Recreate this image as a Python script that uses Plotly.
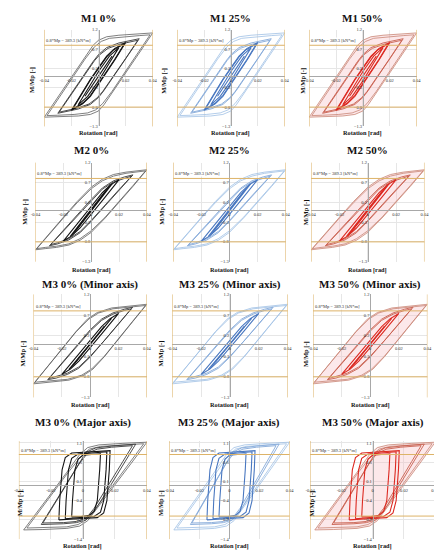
import plotly.graph_objects as go

# ---------------- data ----------------
PANEL_TITLES = [
    "M1 0%", "M1 25%", "M1 50%",
    "M2 0%", "M2 25%", "M2 50%",
    "M3 0% (Minor axis)", "M3 25% (Minor axis)", "M3 50% (Minor axis)",
    "M3 0% (Major axis)", "M3 25% (Major axis)", "M3 50% (Major axis)",
]
X_TITLE = "Rotation [rad]"
Y_TITLE = "M/Mp [-]"
LIMIT_TEXT = "0.8*Mp = 389.3 [kN*m]"
LIMIT_ROT = 0.04
LIMIT_MOM = 0.8

ROT_RANGE = [-0.04, 0.04]
ROT_TICKS = [-0.04, -0.02, 0, 0.02, 0.04]
ROT_TICK_TEXT = ["-0.04", "-0.02", "0", "0.02", "0.04"]
MOM_RANGE_A = [-1.3, 1.2]
MOM_TICKS_A = [-1.3, -0.8, -0.3, 0.2, 0.7, 1.2]
MOM_RANGE_B = [-1.4, 1.15]
MOM_TICKS_B = [-1.4, -0.9, -0.4, 0.1, 0.6, 1.1]

# M1 loops (cycle amplitude, rotation, moment)
M1_AMP = [0.04, 0.04, 0.03, 0.03, 0.02, 0.02, 0.015, 0.01]
M1_ROT = [
    [-0.040, -0.030, -0.020, -0.010, -0.004, 0.000, 0.006, 0.015, 0.030, 0.040,
     0.030, 0.020, 0.010, 0.004, 0.000, -0.006, -0.015, -0.030, -0.040],
    [-0.038, -0.030, -0.020, -0.010, -0.003, 0.002, 0.008, 0.018, 0.030, 0.038,
     0.030, 0.020, 0.010, 0.003, -0.002, -0.008, -0.018, -0.030, -0.038],
    [-0.030, -0.020, -0.010, -0.004, 0.000, 0.006, 0.015, 0.025, 0.030,
     0.020, 0.010, 0.004, 0.000, -0.006, -0.015, -0.025, -0.030],
    [-0.029, -0.020, -0.010, -0.003, 0.001, 0.007, 0.016, 0.025, 0.029,
     0.020, 0.010, 0.003, -0.001, -0.007, -0.016, -0.025, -0.029],
    [-0.020, -0.012, -0.006, 0.000, 0.006, 0.012, 0.017, 0.020,
     0.012, 0.006, 0.000, -0.006, -0.012, -0.017, -0.020],
    [-0.019, -0.012, -0.006, 0.000, 0.006, 0.011, 0.016, 0.019,
     0.012, 0.006, 0.000, -0.006, -0.011, -0.016, -0.019],
    [-0.015, -0.008, 0.000, 0.008, 0.013, 0.015, 0.008, 0.000, -0.008, -0.013, -0.015],
    [-0.010, 0.010],
]
M1_MOM = [
    [-1.06, -0.54, -0.02, 0.50, 0.80, 0.93, 1.02, 1.06, 1.10, 1.12,
     0.60, 0.08, -0.44, -0.74, -0.90, -0.99, -1.03, -1.05, -1.06],
    [-1.02, -0.60, -0.08, 0.44, 0.76, 0.90, 0.98, 1.02, 1.05, 1.07,
     0.65, 0.13, -0.39, -0.71, -0.87, -0.95, -0.99, -1.01, -1.02],
    [-0.96, -0.44, 0.08, 0.38, 0.56, 0.74, 0.86, 0.94, 0.97,
     0.45, -0.07, -0.37, -0.55, -0.73, -0.85, -0.93, -0.96],
    [-0.93, -0.46, 0.06, 0.40, 0.56, 0.72, 0.83, 0.90, 0.93,
     0.46, -0.06, -0.40, -0.56, -0.72, -0.83, -0.90, -0.93],
    [-0.88, -0.42, -0.08, 0.22, 0.52, 0.72, 0.82, 0.87,
     0.42, 0.10, -0.22, -0.52, -0.72, -0.82, -0.88],
    [-0.85, -0.44, -0.10, 0.20, 0.50, 0.68, 0.78, 0.84,
     0.44, 0.12, -0.20, -0.50, -0.68, -0.78, -0.85],
    [-0.74, -0.34, 0.12, 0.52, 0.69, 0.74, 0.34, -0.12, -0.52, -0.69, -0.74],
    [-0.52, 0.52],
]

# M2 loops
M2_AMP = [0.04, 0.04, 0.03, 0.03, 0.02, 0.015, 0.01]
M2_ROT = [
    [-0.040, -0.030, -0.020, -0.010, 0.000, 0.008, 0.016, 0.025, 0.033, 0.040,
     0.030, 0.020, 0.010, 0.000, -0.008, -0.016, -0.025, -0.033, -0.040],
    [-0.039, -0.030, -0.020, -0.010, 0.000, 0.008, 0.016, 0.025, 0.033, 0.039,
     0.030, 0.020, 0.010, 0.000, -0.008, -0.016, -0.025, -0.033, -0.039],
    [-0.030, -0.020, -0.010, 0.000, 0.008, 0.016, 0.024, 0.030,
     0.020, 0.010, 0.000, -0.008, -0.016, -0.024, -0.030],
    [-0.029, -0.020, -0.010, 0.000, 0.008, 0.016, 0.024, 0.029,
     0.020, 0.010, 0.000, -0.008, -0.016, -0.024, -0.029],
    [-0.020, -0.010, 0.000, 0.008, 0.014, 0.020, 0.010, 0.000, -0.008, -0.014, -0.020],
    [-0.015, -0.005, 0.005, 0.011, 0.015, 0.005, -0.005, -0.011, -0.015],
    [-0.010, 0.010],
]
M2_MOM = [
    [-1.00, -0.58, -0.18, 0.22, 0.58, 0.78, 0.90, 0.96, 0.99, 1.02,
     0.60, 0.20, -0.20, -0.56, -0.76, -0.88, -0.94, -0.97, -1.00],
    [-0.97, -0.60, -0.20, 0.19, 0.54, 0.74, 0.86, 0.93, 0.96, 0.99,
     0.62, 0.22, -0.18, -0.52, -0.72, -0.85, -0.91, -0.94, -0.97],
    [-0.90, -0.52, -0.12, 0.27, 0.56, 0.74, 0.84, 0.89,
     0.51, 0.11, -0.28, -0.57, -0.75, -0.85, -0.90],
    [-0.87, -0.53, -0.13, 0.25, 0.53, 0.71, 0.81, 0.86,
     0.52, 0.12, -0.26, -0.54, -0.72, -0.82, -0.87],
    [-0.78, -0.34, 0.10, 0.44, 0.64, 0.77, 0.33, -0.11, -0.45, -0.65, -0.78],
    [-0.66, -0.20, 0.26, 0.52, 0.66, 0.20, -0.26, -0.52, -0.66],
    [-0.46, 0.46],
]

# M3 minor-axis loops
M3N_AMP = [0.04, 0.04, 0.03, 0.03, 0.02, 0.015, 0.01]
M3N_ROT = [
    [-0.040, -0.030, -0.020, -0.010, -0.002, 0.005, 0.015, 0.030, 0.040,
     0.030, 0.020, 0.010, 0.002, -0.005, -0.015, -0.030, -0.040],
    [-0.039, -0.030, -0.020, -0.010, -0.001, 0.006, 0.016, 0.030, 0.039,
     0.030, 0.020, 0.010, 0.001, -0.006, -0.016, -0.030, -0.039],
    [-0.030, -0.020, -0.010, 0.000, 0.008, 0.016, 0.024, 0.030,
     0.020, 0.010, 0.000, -0.008, -0.016, -0.024, -0.030],
    [-0.029, -0.020, -0.010, 0.000, 0.008, 0.016, 0.024, 0.029,
     0.020, 0.010, 0.000, -0.008, -0.016, -0.024, -0.029],
    [-0.020, -0.010, 0.000, 0.008, 0.014, 0.020, 0.010, 0.000, -0.008, -0.014, -0.020],
    [-0.015, -0.005, 0.005, 0.011, 0.015, 0.005, -0.005, -0.011, -0.015],
    [-0.010, 0.010],
]
M3N_MOM = [
    [-0.97, -0.55, -0.12, 0.30, 0.60, 0.76, 0.87, 0.93, 0.96,
     0.54, 0.11, -0.31, -0.61, -0.77, -0.88, -0.94, -0.97],
    [-0.93, -0.56, -0.13, 0.29, 0.60, 0.75, 0.85, 0.90, 0.93,
     0.55, 0.12, -0.30, -0.61, -0.76, -0.86, -0.91, -0.93],
    [-0.87, -0.46, -0.05, 0.34, 0.60, 0.75, 0.84, 0.89,
     0.48, 0.07, -0.32, -0.59, -0.74, -0.83, -0.87],
    [-0.84, -0.48, -0.07, 0.31, 0.57, 0.72, 0.81, 0.85,
     0.49, 0.08, -0.30, -0.56, -0.71, -0.80, -0.84],
    [-0.74, -0.32, 0.10, 0.42, 0.61, 0.74, 0.32, -0.10, -0.42, -0.61, -0.74],
    [-0.62, -0.20, 0.22, 0.48, 0.62, 0.20, -0.22, -0.48, -0.62],
    [-0.43, 0.43],
]

# M3 major-axis loops
M3J_AMP = [0.04, 0.04, 0.03, 0.03, 0.02, 0.015, 0.01]
M3J_ROT = [
    [-0.037, -0.030, -0.020, -0.010, -0.002, 0.003, 0.010, 0.025, 0.040,
     0.030, 0.020, 0.010, 0.003, -0.002, -0.010, -0.025, -0.037],
    [-0.035, -0.030, -0.020, -0.010, -0.001, 0.004, 0.011, 0.025, 0.038,
     0.030, 0.020, 0.010, 0.002, -0.003, -0.010, -0.024, -0.035],
    [-0.026, -0.020, -0.010, -0.002, 0.002, 0.008, 0.018, 0.033,
     0.025, 0.015, 0.007, 0.002, -0.004, -0.012, -0.026],
    [-0.025, -0.020, -0.010, -0.002, 0.003, 0.009, 0.018, 0.031,
     0.025, 0.015, 0.007, 0.002, -0.004, -0.012, -0.025],
    [-0.015, -0.0145, -0.013, -0.011, -0.007, 0.005, 0.014, 0.017,
     0.0165, 0.015, 0.013, 0.009, -0.003, -0.012, -0.015],
    [-0.011, -0.0105, -0.009, -0.007, -0.003, 0.006, 0.013, 0.015,
     0.0145, 0.013, 0.011, 0.007, -0.002, -0.009, -0.011],
    [-0.007, -0.0065, -0.005, -0.003, 0.000, 0.006, 0.010, 0.011,
     0.0105, 0.009, 0.007, 0.004, -0.001, -0.005, -0.007],
]
M3J_MOM = [
    [-1.16, -0.78, -0.22, 0.34, 0.80, 0.98, 1.05, 1.09, 1.12,
     0.56, 0.00, -0.56, -0.92, -1.06, -1.12, -1.15, -1.16],
    [-1.11, -0.83, -0.27, 0.29, 0.76, 0.94, 1.01, 1.05, 1.08,
     0.63, 0.07, -0.49, -0.90, -1.02, -1.08, -1.10, -1.11],
    [-1.02, -0.62, 0.06, 0.60, 0.86, 0.97, 1.02, 1.07,
     0.52, -0.16, -0.68, -0.90, -0.97, -1.00, -1.02],
    [-0.98, -0.64, 0.04, 0.58, 0.84, 0.94, 0.99, 1.03,
     0.62, -0.06, -0.60, -0.86, -0.94, -0.97, -0.98],
    [-0.90, -0.40, 0.40, 0.72, 0.84, 0.87, 0.89, 0.90,
     0.40, -0.40, -0.72, -0.84, -0.87, -0.89, -0.90],
    [-0.87, -0.40, 0.40, 0.70, 0.81, 0.84, 0.86, 0.87,
     0.40, -0.40, -0.70, -0.81, -0.84, -0.86, -0.87],
    [-0.82, -0.40, 0.40, 0.68, 0.78, 0.81, 0.82, 0.82,
     0.40, -0.40, -0.68, -0.78, -0.81, -0.82, -0.82],
]

ROW_DATA = [
    (M1_AMP, M1_ROT, M1_MOM),
    (M2_AMP, M2_ROT, M2_MOM),
    (M3N_AMP, M3N_ROT, M3N_MOM),
    (M3J_AMP, M3J_ROT, M3J_MOM),
]

# ---------------- layout / styles ----------------
W, H = 442, 550
FONT = "Liberation Serif, Times New Roman, serif"
# pixel boxes of each panel's plot area
COL_X = [[(32, 143), (168, 278), (303, 413)],
         [(23, 137), (164, 279), (305, 421)],
         [(21, 137), (163, 281), (307, 424)],
         [(6, 137), (160, 283), (304, 432)]]
ROW_Y = [(20, 117.5), (154, 254), (287, 391), (435, 534)]
TITLE_Y = [8, 141, 277, 416]
XT_Y = [124, 262, 399, 540.5]
YT_X = [[20, 155, 297], [12, 153, 300], [10, 151, 300], [8, 152, 306]]
YT_Y = [71, 204, 347, 498]

COL_STYLE = [
    {"outer": ("#606060", 0.8), "mid": ("#3a3a3a", 0.9), "inner": ("#151515", 1.1)},
    {"outer": ("#9fc0e4", 0.8), "mid": ("#84a9d9", 0.9), "inner": ("#4a78c0", 1.1)},
    {"outer": ("#c98676", 0.8), "mid": ("#c8604f", 0.9), "inner": ("#dc2a22", 1.1)},
]
FILL_COL3 = "rgba(247,185,190,0.32)"
ORANGE = "#ddb368"

fig = go.Figure()
annotations = []
shapes = []
layout = {}

for r in range(4):
    amps, rots, moms = ROW_DATA[r]
    yr = MOM_RANGE_B if r == 3 else MOM_RANGE_A
    yt = MOM_TICKS_B if r == 3 else MOM_TICKS_A
    y_top, y_bot = ROW_Y[r]
    yd = [1 - y_bot / H, 1 - y_top / H]
    for c in range(3):
        k = r * 3 + c
        sfx = "" if k == 0 else str(k + 1)
        xa, ya = "x" + sfx, "y" + sfx
        x0, x1 = COL_X[r][c]
        xd = [x0 / W, x1 / W]
        ypos = yd[0] + (0 - yr[0]) / (yr[1] - yr[0]) * (yd[1] - yd[0])
        xpos = (xd[0] + xd[1]) / 2
        layout["xaxis" + sfx] = dict(
            domain=xd, range=ROT_RANGE, anchor="free", position=ypos,
            tickvals=ROT_TICKS, ticktext=ROT_TICK_TEXT, ticks="",
            tickfont=dict(family=FONT, size=4.5, color="#333"),
            showgrid=True, gridcolor="#e6e6e6", gridwidth=0.6,
            showline=True, linecolor="#a8a8a8", linewidth=0.8,
            zeroline=False, fixedrange=True,
        )
        layout["yaxis" + sfx] = dict(
            domain=yd, range=yr, anchor="free", position=xpos,
            tickvals=yt, ticks="",
            tickfont=dict(family=FONT, size=4.5, color="#333"),
            showgrid=True, gridcolor="#e6e6e6", gridwidth=0.6,
            showline=True, linecolor="#a8a8a8", linewidth=0.8,
            zeroline=False, fixedrange=True,
        )
        st = COL_STYLE[c]
        if c == 2:
            fig.add_trace(go.Scatter(
                x=rots[0], y=moms[0], xaxis=xa, yaxis=ya, mode="lines",
                fill="toself", fillcolor=FILL_COL3, line=dict(width=0),
                hoverinfo="skip"))
        for amp, xs, ys in zip(amps, rots, moms):
            key = "outer" if amp >= 0.04 else ("mid" if amp >= 0.03 else "inner")
            col, wd = st[key]
            fig.add_trace(go.Scatter(
                x=xs, y=ys, xaxis=xa, yaxis=ya, mode="lines",
                line=dict(color=col, width=wd), hoverinfo="skip"))
        # limit lines
        for v in (-LIMIT_ROT, LIMIT_ROT):
            shapes.append(dict(type="line", xref=xa, yref=ya + " domain",
                               x0=v, x1=v, y0=0, y1=1,
                               line=dict(color=ORANGE, width=1)))
        for v in (-LIMIT_MOM, LIMIT_MOM):
            shapes.append(dict(type="line", xref=xa + " domain", yref=ya,
                               x0=0, x1=1, y0=v, y1=v,
                               line=dict(color=ORANGE, width=1)))
        annotations.append(dict(
            xref=xa, yref=ya, x=ROT_RANGE[0], y=LIMIT_MOM, xanchor="left",
            yanchor="bottom", text=LIMIT_TEXT, showarrow=False,
            bgcolor="white", borderpad=0, xshift=1, yshift=1,
            font=dict(family=FONT, size=4.5, color="#333")))
        # titles
        annotations.append(dict(
            xref="paper", yref="paper", x=xpos, y=1 - TITLE_Y[r] / H,
            xanchor="center", yanchor="middle", showarrow=False,
            text="<b>" + PANEL_TITLES[k] + "</b>",
            font=dict(family=FONT, size=11, color="#111")))
        annotations.append(dict(
            xref="paper", yref="paper", x=xpos, y=1 - XT_Y[r] / H,
            xanchor="center", yanchor="middle", showarrow=False,
            text="<b>" + X_TITLE + "</b>",
            font=dict(family=FONT, size=6.3, color="#111")))
        annotations.append(dict(
            xref="paper", yref="paper", x=YT_X[r][c] / W, y=1 - YT_Y[r] / H,
            xanchor="center", yanchor="middle", showarrow=False, textangle=-90,
            text="<b>" + Y_TITLE + "</b>",
            font=dict(family=FONT, size=6.5, color="#111")))

fig.update_layout(
    width=W, height=H, margin=dict(l=0, r=0, t=0, b=0),
    paper_bgcolor="white", plot_bgcolor="white", showlegend=False,
    annotations=annotations, shapes=shapes, **layout)

fig.write_html("out.html")
